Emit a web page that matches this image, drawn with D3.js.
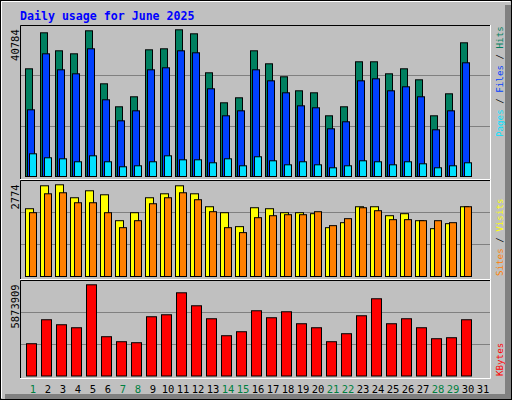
<!DOCTYPE html>
<html><head><meta charset="utf-8">
<script src="https://cdn.jsdelivr.net/npm/d3@7"></script>
<style>body{margin:0;background:#fff}svg{display:block}</style>
</head><body>
<script>
const days = d3.range(1, 32);
const weekendDays = [1,7,8,14,15,21,22,28,29];
const hits  = [29940,39950,34945,34110,40505,25770,19380,22160,35220,35500,40784,39670,28830,20490,21880,34945,31330,27720,23825,23270,16875,19380,31890,31890,28550,29940,26880,16875,22990,37170];
const files = [18540,34110,29660,28550,35500,21320,15480,18260,29660,30220,34945,34390,24380,16875,18260,29660,26600,23270,19650,19100,13260,15210,26600,27160,23825,24940,22160,12980,18260,31610];
const pages = [6310,5200,4920,4090,5750,4090,2700,2975,4090,5750,4640,4640,3810,4920,2975,5480,4365,3250,4090,3250,2420,2975,4365,4090,3250,4090,3530,2420,2975,3810];
const sites = [2050,2744,2774,2382,2593,2472,1688,1930,2382,2502,2744,2502,2110,1930,1508,2080,2050,1930,1930,1900,1477,1628,2110,2110,1839,1900,1688,1447,1598,2110];
const visits = [1930,2502,2533,2231,2231,1930,1477,1688,2201,2382,2533,2322,1960,1477,1327,1779,1839,1869,1869,1960,1538,1749,2080,1990,1719,1719,1688,1688,1628,2110];
const kbytes = [2079000,3623000,3301000,3108000,5873909,2530000,2208000,2144000,3816000,3944000,5359000,4523000,3687000,2594000,2851000,4202000,3752000,4137000,3366000,3108000,2208000,2723000,3880000,4974000,3366000,3687000,3108000,2401000,2465000,3623000];
const maxLabels = ["40784","2774","5873909"];
const title = "Daily usage for June 2025";

const W=512,H=400;
const svg=d3.select("body").append("svg").attr("width",W).attr("height",H);
svg.append("rect").attr("x",0).attr("y",0).attr("width",W).attr("height",H).attr("fill","#c0c0c0");
svg.append("rect").attr("x",505).attr("y",5).attr("width",6).attr("height",394).attr("fill","#808080");
svg.append("rect").attr("x",5).attr("y",394).attr("width",506).attr("height",5).attr("fill","#808080");
svg.append("rect").attr("x",0.5).attr("y",0.5).attr("width",W-1).attr("height",H-1).attr("fill","none").attr("stroke","#000");
svg.append("path").attr("d","M1.5,398V1.5H510").attr("stroke","#fff").attr("fill","none");

svg.append("text").attr("x",20).attr("y",20).text(title)
  .attr("font-family","DejaVu Sans Mono").attr("font-weight","bold").attr("font-size",11.6).attr("fill","#0000ff");

const x = d3.scaleBand().domain(days).range([25,490]).paddingInner(0).paddingOuter(0);
const mono="DejaVu Sans Mono";

function panel(top,bottom,base,maxY,maxV,label){
  svg.append("rect").attr("x",20.5).attr("y",top+0.5).attr("width",470).attr("height",bottom-top).attr("fill","#c0c0c0");
  const y=d3.scaleLinear().domain([0,maxV]).range([base,maxY]);
  const gl=[ (base-top)/3, 2*(base-top)/3 ].map(p=>y.invert(base-p));
  svg.selectAll(null).data(gl).enter().append("line")
    .attr("x1",21).attr("x2",490).attr("y1",d=>Math.round(y(d))+0.5).attr("y2",d=>Math.round(y(d))+0.5)
    .attr("stroke","#808080").attr("stroke-width",1);
  svg.append("path").attr("d",`M20.5,${bottom}V${top+0.5}H490.5`).attr("stroke","#000").attr("fill","none");
  svg.append("path").attr("d",`M490.5,${top}V${bottom+0.5}H20`).attr("stroke","#fff").attr("fill","none");
  svg.append("text").attr("transform",`translate(19,${maxY}) rotate(-90)`).attr("text-anchor","end")
    .attr("font-family",mono).attr("font-size",10.5).attr("fill","#000").text(label);
  return y;
}
function bars(data,y,base,off,w,color){
  svg.selectAll(null).data(data).enter().append("rect")
    .attr("x",(d,i)=>x(i+1)+off+0.5).attr("y",d=>y(d)+0.5).attr("width",w).attr("height",d=>base-y(d))
    .attr("fill",color).attr("stroke","#000").attr("stroke-width",1);
}
// panel 1
const y1=panel(25,179,176,29.3,d3.max(hits),maxLabels[0]);
bars(hits,y1,176,0,7,"#008060");
bars(files,y1,176,2,7,"#0040ff");
bars(pages,y1,176,4,7,"#00e0ff");
// panel 2
const y2=panel(180,279,276,184.3,d3.max(sites),maxLabels[1]);
bars(sites,y2,276,0,8,"#ffff00");
bars(visits,y2,276,4,7,"#ff8000");
// panel 3
const y3=panel(280,378,375.5,284.3,d3.max(kbytes),maxLabels[2]);
bars(kbytes,y3,375.5,1,10,"#ff0000");

// day labels
svg.selectAll(null).data(days).enter().append("text")
  .attr("x",d=>x(d)+8).attr("y",393).attr("text-anchor","middle")
  .attr("font-family",mono).attr("font-size",10.5)
  .attr("fill",d=>weekendDays.includes(d)?"#008040":"#000").text(d=>d);

// right labels
function rlabel(yb,parts){
  const t=svg.append("text").attr("transform",`translate(503,${yb}) rotate(-90)`)
    .attr("font-family",mono).attr("font-size",9.2);
  parts.forEach(([s,c])=>t.append("tspan").attr("fill",c).text(s));
}
rlabel(137,[["Pages","#00e0ff"],[" / ","#000"],["Files","#0040ff"],[" / ","#000"],["Hits","#008060"]]);
rlabel(276,[["Sites","#ff8000"],[" / ","#000"],["Visits","#ffff00"]]);
rlabel(376,[["KBytes","#ff0000"]]);
</script>
</body></html>
